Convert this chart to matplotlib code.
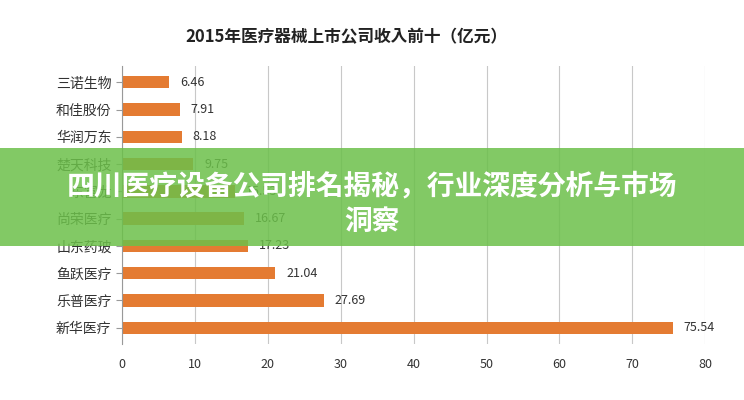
import matplotlib.pyplot as plt
from matplotlib.patches import Rectangle

plt.rcParams["font.family"] = ["Noto Sans CJK JP", "Noto Sans CJK SC", "DejaVu Sans"]

companies = ["三诺生物", "和佳股份", "华润万东", "楚天科技", "东富龙", "尚荣医疗",
             "山东药玻", "鱼跃医疗", "乐普医疗", "新华医疗"]
revenue = [6.46, 7.91, 8.18, 9.75, 15.53, 16.67, 17.23, 21.04, 27.69, 75.54]
x_ticks = [0, 10, 20, 30, 40, 50, 60, 70, 80]

fig = plt.figure(figsize=(7.44, 4.0), dpi=100)
fig.patch.set_facecolor("white")
ax = fig.add_axes([0.164, 0.14, 0.784, 0.695])

y = range(len(companies))
ax.barh(y, revenue, height=0.45, color="#E47B32")
for i, v in enumerate(revenue):
    ax.text(v + 1.5, i, f"{v:.2f}", va="center", fontsize=9, color="#333333")

ax.set_yticks(list(y))
ax.set_yticklabels(companies, fontsize=10, color="#333333")
ax.set_ylim(len(companies) - 0.4, -0.6)
ax.set_xlim(0, 80)
ax.set_xticks(x_ticks)
ax.tick_params(axis="x", length=0, labelsize=9, labelcolor="#333333", pad=10)
ax.tick_params(axis="y", length=4, color="#999999")
ax.xaxis.grid(True, color="#C8C8C8", linewidth=0.8)
ax.set_axisbelow(True)
for s in ["top", "right", "bottom"]:
    ax.spines[s].set_visible(False)
ax.spines["left"].set_color("#999999")

fig.text(0.465, 0.895, "2015年医疗器械上市公司收入前十（亿元）", ha="center",
         fontsize=12, fontweight="bold", color="#222222")

# green banner overlay
fig.patches.append(Rectangle((0, 0.385), 1, 0.245, transform=fig.transFigure,
                             facecolor="#6CC04A", alpha=0.85, zorder=5))
fig.text(0.5, 0.535, "四川医疗设备公司排名揭秘，行业深度分析与市场", ha="center", va="center",
         fontsize=20, fontweight="bold", color="white", zorder=6)
fig.text(0.5, 0.445, "洞察", ha="center", va="center",
         fontsize=20, fontweight="bold", color="white", zorder=6)

fig.savefig("out.png", dpi=100)
